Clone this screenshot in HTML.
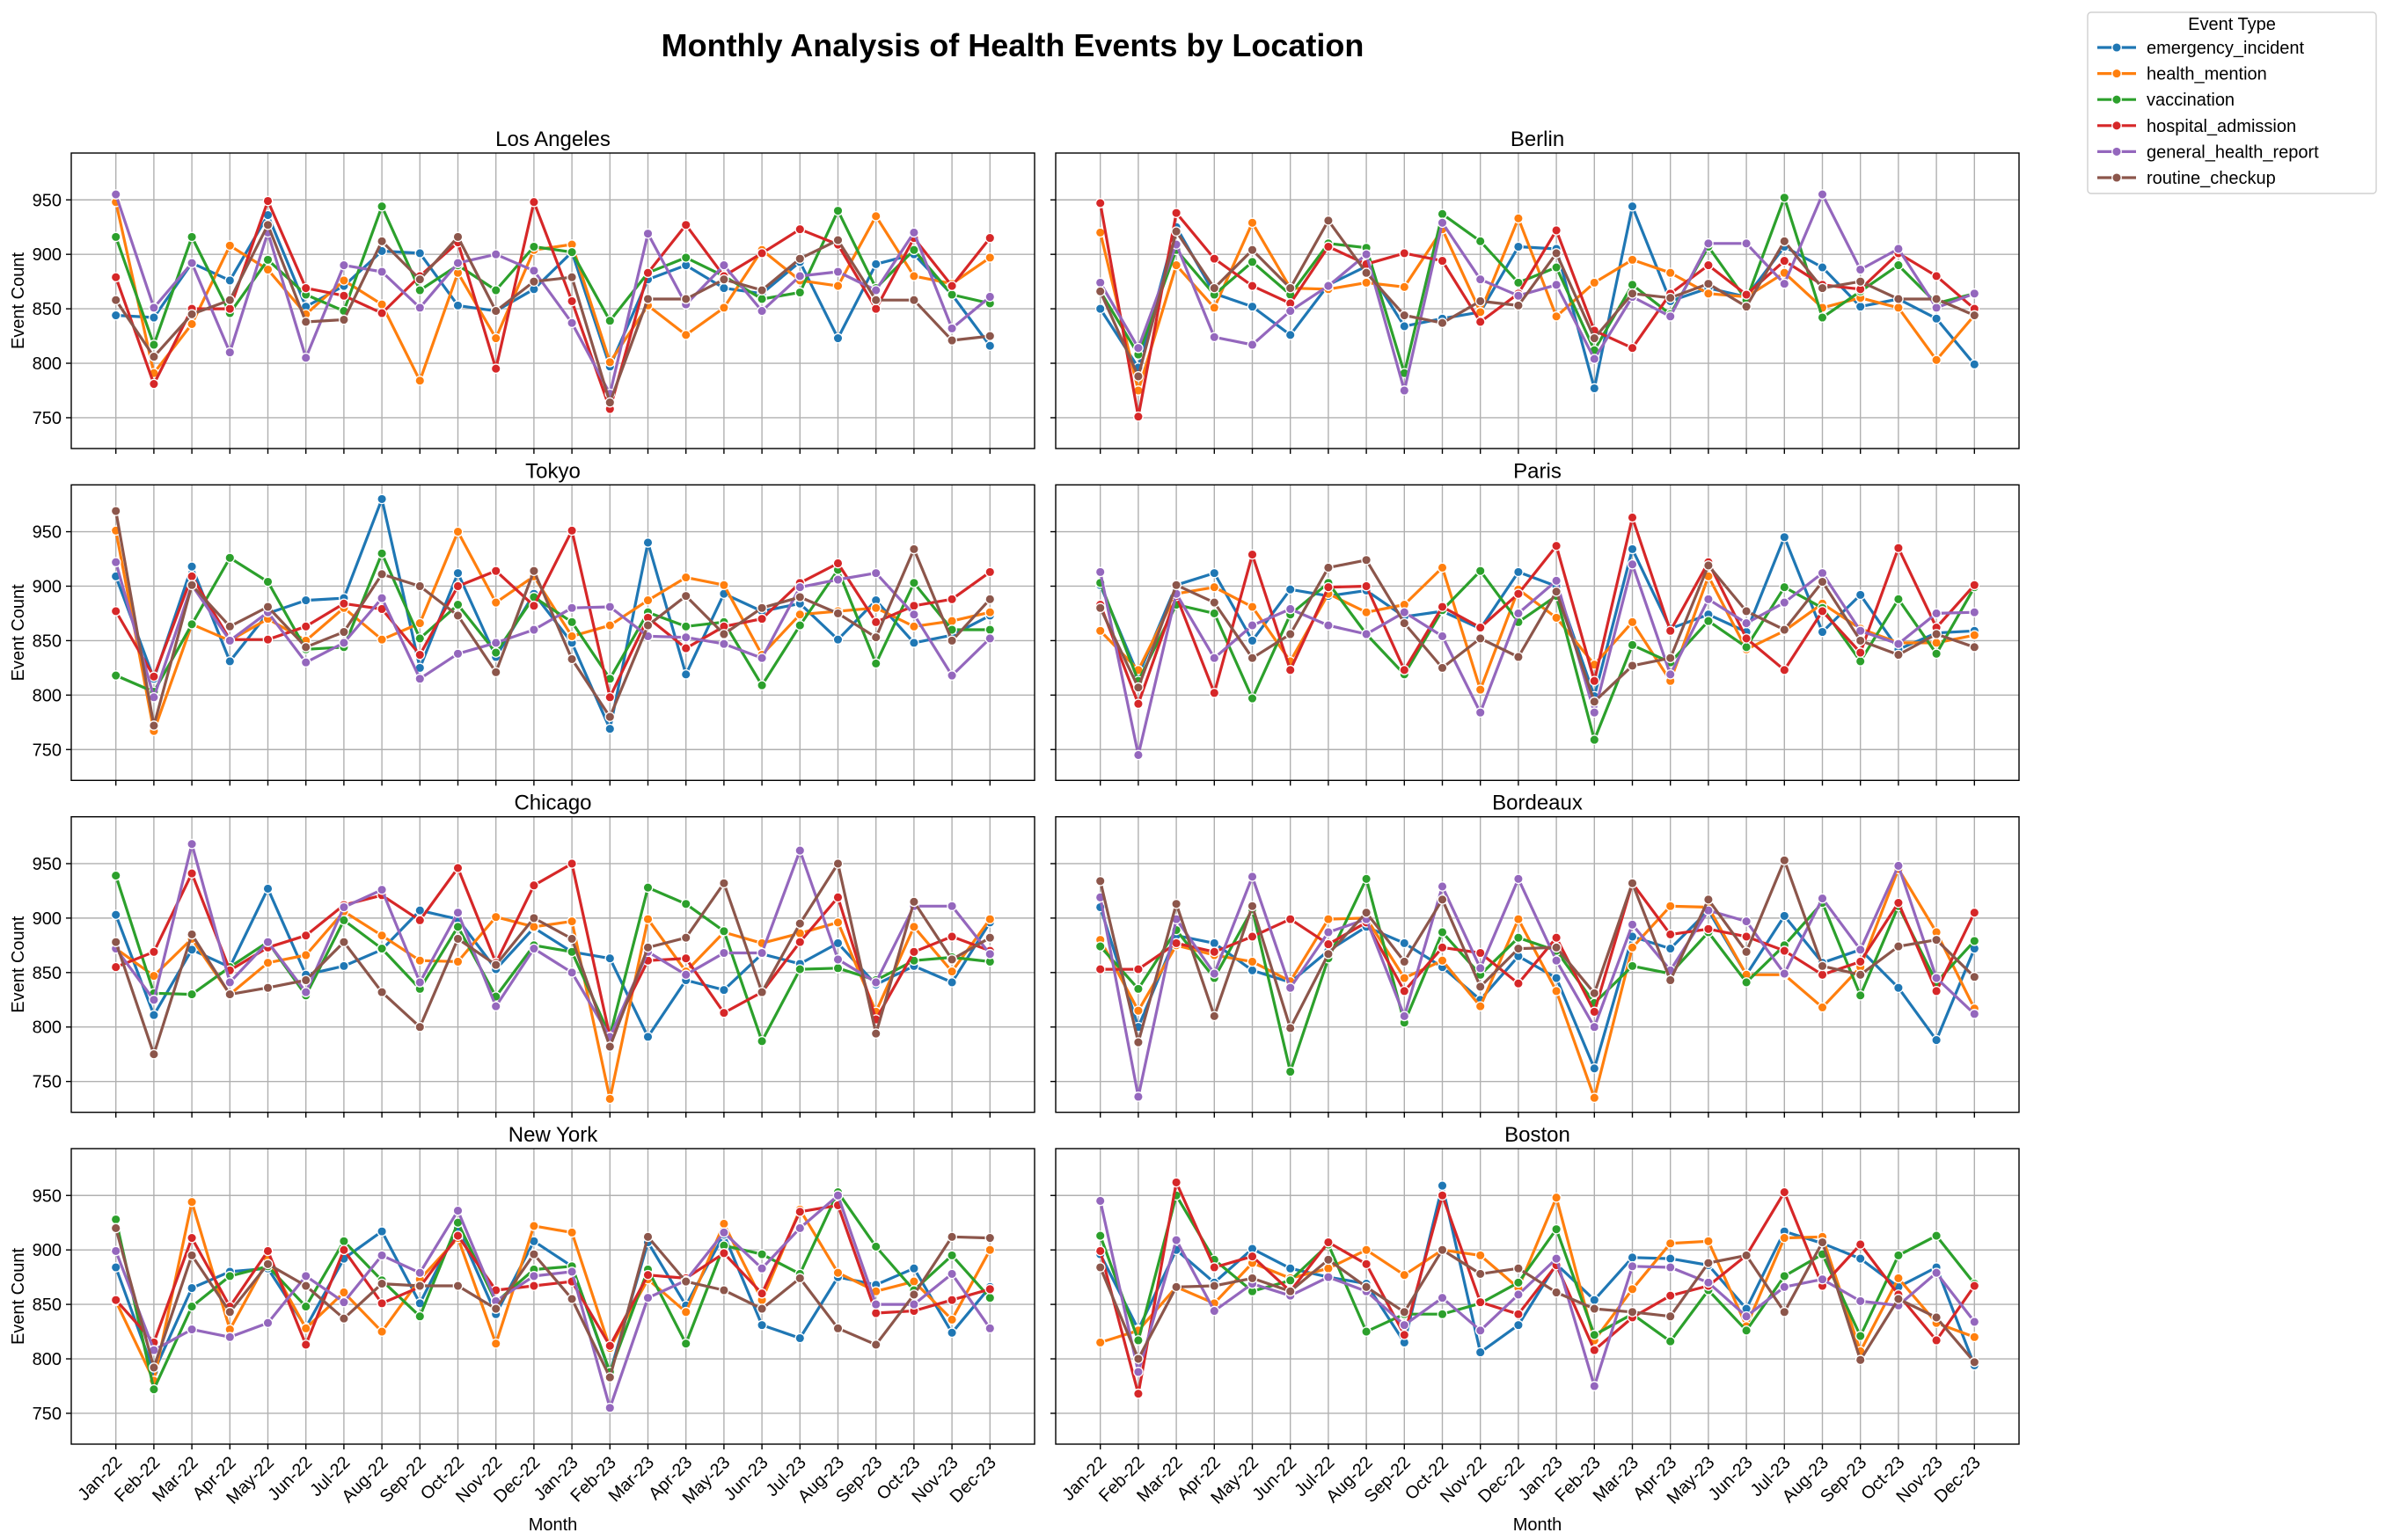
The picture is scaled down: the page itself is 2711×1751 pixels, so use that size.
<!DOCTYPE html>
<html><head><meta charset="utf-8"><title>Monthly Analysis of Health Events by Location</title>
<style>html,body{margin:0;padding:0;background:#fff}svg{display:block;font-family:"Liberation Sans","DejaVu Sans",sans-serif}</style>
</head><body>
<svg id="chart" width="2711" height="1751" viewBox="0 0 2711 1751" xmlns="http://www.w3.org/2000/svg">
<rect width="2711" height="1751" fill="#fff"/>
<text x="1151" y="64" text-anchor="middle" font-size="36" font-weight="bold">Monthly Analysis of Health Events by Location</text>
<g id="panels"></g>
<g id="legend"></g>
</svg>
<script>
const months = ["Jan-22","Feb-22","Mar-22","Apr-22","May-22","Jun-22","Jul-22","Aug-22","Sep-22","Oct-22","Nov-22","Dec-22","Jan-23","Feb-23","Mar-23","Apr-23","May-23","Jun-23","Jul-23","Aug-23","Sep-23","Oct-23","Nov-23","Dec-23"];
const seriesNames = ["emergency_incident","health_mention","vaccination","hospital_admission","general_health_report","routine_checkup"];
const seriesColors = ["#1f77b4","#ff7f0e","#2ca02c","#d62728","#9467bd","#8c564b"];
const yTicks = [750,800,850,900,950];
const locations = ["Los Angeles","Berlin","Tokyo","Paris","Chicago","Bordeaux","New York","Boston"];

const laData = [
[844,842,892,876,936,852,871,903,901,853,848,868,902,797,877,890,869,864,893,823,891,900,863,816],
[948,791,836,908,886,845,876,854,784,883,823,904,909,801,853,826,851,904,876,871,935,880,873,897],
[916,817,916,846,895,863,848,944,867,890,867,907,902,839,883,897,880,859,865,940,869,904,863,855],
[879,781,850,850,949,869,862,846,880,911,795,948,857,758,883,927,880,901,923,909,850,915,871,915],
[955,851,892,810,920,805,890,884,851,892,900,885,837,772,919,854,890,848,880,884,867,920,832,861],
[858,806,845,858,927,838,840,912,877,916,848,875,879,764,859,859,877,867,896,913,858,858,821,825]];
const berlinData = [
[850,796,925,864,852,826,872,889,834,841,847,907,905,777,944,857,869,861,907,888,852,859,841,799],
[920,775,890,851,929,869,868,874,870,923,847,933,843,874,895,883,864,861,883,851,860,851,803,844],
[866,808,904,863,893,863,910,906,791,937,912,874,888,812,872,845,907,858,952,842,866,890,855,864],
[947,751,938,896,871,855,907,891,901,894,838,864,922,830,814,864,890,863,894,872,868,901,880,850],
[874,814,909,824,817,848,871,900,775,929,877,862,872,804,861,843,910,910,873,955,886,905,851,864],
[866,788,921,869,904,869,931,883,844,837,857,853,901,823,864,860,873,852,912,869,875,859,859,844]];
const tokyoData = [
[909,815,918,831,875,887,889,980,825,912,835,893,848,769,940,819,893,877,884,851,887,848,855,873],
[951,767,865,850,870,850,880,851,866,950,885,909,854,864,887,908,901,837,874,877,880,863,868,876],
[818,803,865,926,904,842,844,930,852,883,839,890,867,815,876,863,867,809,864,915,829,903,860,860],
[877,817,909,851,851,863,884,879,837,900,914,882,951,798,871,843,863,870,903,921,867,882,888,913],
[922,798,901,850,876,830,848,889,815,838,848,860,880,881,854,853,847,834,899,906,912,874,818,852],
[969,772,901,863,881,844,858,911,900,873,821,914,833,780,864,891,856,880,890,875,853,934,850,888]];
const parisData = [
[901,818,901,912,850,897,891,896,872,877,861,913,900,799,934,861,874,858,945,858,892,842,857,859],
[859,823,893,899,881,831,893,876,883,917,805,897,871,828,867,813,909,842,859,884,861,848,848,855],
[903,813,883,875,797,874,903,856,819,878,914,867,891,759,846,830,868,844,899,880,831,888,838,899],
[883,792,891,802,929,823,899,900,823,881,862,893,937,813,963,859,922,852,823,877,839,935,862,901],
[913,745,893,834,864,879,864,856,876,854,784,875,905,784,920,819,888,866,885,912,859,847,875,876],
[880,807,901,885,834,856,917,924,866,825,852,835,895,794,827,834,919,877,860,904,850,837,856,844]];
const chicagoData = [
[903,811,871,855,927,848,856,871,907,899,853,891,869,863,791,843,834,867,858,877,839,856,841,896],
[872,847,881,830,859,866,906,884,861,860,901,892,897,734,899,851,887,877,886,896,814,892,851,899],
[939,831,830,855,878,829,898,872,835,892,828,875,869,792,928,913,888,787,853,854,843,861,864,860],
[855,869,941,852,873,884,912,921,898,946,859,930,950,791,861,863,813,832,878,919,807,869,883,870],
[872,825,968,841,878,832,910,926,841,905,819,872,850,791,869,848,868,868,962,862,841,911,911,867],
[878,775,885,830,836,843,878,832,800,881,857,900,881,782,873,882,932,832,895,950,794,915,862,882]];
const bordeauxData = [
[910,800,884,877,852,841,870,892,877,855,825,865,845,762,883,872,907,848,902,859,871,836,788,872],
[880,815,875,866,860,842,899,900,845,861,819,899,833,735,873,911,910,848,848,818,855,945,887,817],
[874,835,889,845,908,759,863,936,804,887,848,882,870,822,856,849,887,841,875,914,829,911,841,879],
[853,853,877,869,883,899,876,896,833,873,868,840,882,814,932,885,890,883,870,848,860,914,833,905],
[919,736,899,849,938,836,887,899,810,929,854,936,861,800,894,852,907,897,849,918,871,948,845,812],
[934,786,913,810,911,799,867,905,860,917,837,872,873,831,932,843,917,869,953,856,848,874,880,846]];
const newYorkData = [
[884,788,865,880,883,829,892,917,851,920,841,908,885,787,907,849,914,831,819,875,868,883,824,866],
[853,780,944,827,891,828,861,825,873,911,814,922,916,810,873,843,924,854,937,879,862,871,836,900],
[928,772,848,876,885,848,908,872,839,925,852,882,885,788,882,814,904,896,878,953,903,863,895,856],
[854,815,911,848,899,813,900,851,866,913,863,867,871,812,877,874,897,860,935,941,842,844,854,864],
[899,808,827,820,833,876,852,895,879,936,853,876,880,755,856,872,916,883,920,950,850,850,878,828],
[920,792,895,843,887,867,837,869,867,867,846,896,855,783,912,871,863,846,874,828,813,859,912,911]];
const bostonData = [
[896,827,900,870,901,883,875,869,815,959,806,831,887,854,893,892,886,846,917,906,892,866,884,794],
[815,826,866,851,888,874,883,900,877,900,895,865,948,817,864,906,908,830,911,912,807,874,833,820],
[913,817,950,891,862,872,905,825,841,841,851,870,919,822,841,816,863,826,876,896,821,895,913,869],
[899,768,962,884,894,862,907,887,822,950,852,841,886,808,838,858,867,895,953,867,905,859,817,867],
[945,788,909,844,869,858,875,862,831,856,826,859,892,775,885,884,870,839,866,873,853,849,879,834],
[884,800,866,867,874,862,891,866,843,900,878,883,861,846,843,839,888,895,843,907,799,855,838,797]];
const allData = [laData,berlinData,tokyoData,parisData,chicagoData,bordeauxData,newYorkData,bostonData];

const NS = "http://www.w3.org/2000/svg";
const PW = 1095, PH = 336, YMIN = 721.7, YMAX = 993;
const colX = [81, 1200], rowY = [174, 551.3, 928.7, 1306];
function mk(tag, attrs, parent){const e=document.createElementNS(NS,tag);for(const k in attrs)e.setAttribute(k,attrs[k]);parent.appendChild(e);return e;}
function slug(s){return s.toLowerCase().replace(/[^a-z0-9]+/g,'-');}
const root = document.getElementById('panels');

locations.forEach((loc, li) => {
  const col = li % 2, row = Math.floor(li / 2);
  const x0 = colX[col], y0 = rowY[row];
  const xs = i => x0 + 50.7 + i * (PW - 101.4) / (months.length - 1);
  const ys = v => y0 + (YMAX - v) / (YMAX - YMIN) * PH;
  const g = mk('g', {}, root);
  
  
  // grid
  months.forEach((m, i) => {
    const l = mk('line', {x1: xs(i), x2: xs(i), y1: y0, y2: y0 + PH, stroke: '#b0b0b0', 'stroke-width': 1.4}, g);
    
    
    const t = mk('line', {x1: xs(i), x2: xs(i), y1: y0 + PH, y2: y0 + PH + 6, stroke: '#000', 'stroke-width': 1.4}, g);
    
    
  });
  yTicks.forEach(v => {
    const l = mk('line', {x1: x0, x2: x0 + PW, y1: ys(v), y2: ys(v), stroke: '#b0b0b0', 'stroke-width': 1.4}, g);
    
    
    const t = mk('line', {x1: x0 - 6, x2: x0, y1: ys(v), y2: ys(v), stroke: '#000', 'stroke-width': 1.4}, g);
    
    
    if (col === 0) {
      const tx = mk('text', {x: x0 - 11, y: ys(v) + 7, 'text-anchor': 'end', 'font-size': 20}, g);
      tx.textContent = v;
      
      
    }
  });
  // title
  const tt = mk('text', {x: x0 + PW / 2, y: y0 - 8, 'text-anchor': 'middle', 'font-size': 24}, g);
  tt.textContent = loc;
  
  
  if (col === 0) {
    const yl = mk('text', {x: 0, y: 0, 'text-anchor': 'middle', 'font-size': 20, transform: `translate(27,${y0 + PH / 2}) rotate(-90)`}, g);
    yl.textContent = 'Event Count';
    
    
  }
  if (row === 3) {
    months.forEach((m, i) => {
      const tx = mk('text', {x: 0, y: 0, 'text-anchor': 'end', 'font-size': 20, transform: `translate(${xs(i) + 8},${y0 + PH + 22}) rotate(-45)`}, g);
      tx.textContent = m;
      
      
    });
    const xl = mk('text', {x: x0 + PW / 2, y: 1740, 'text-anchor': 'middle', 'font-size': 20}, g);
    xl.textContent = 'Month';
    
    
  }
  // series
  allData[li].forEach((vals, si) => {
    const sg = mk('g', {}, g);
    
    
    const pts = vals.map((v, i) => xs(i).toFixed(1) + ',' + ys(v).toFixed(1)).join(' ');
    const pl = mk('polyline', {points: pts, fill: 'none', stroke: seriesColors[si], 'stroke-width': 3.2, 'stroke-linejoin': 'round'}, sg);
    
    
    vals.forEach((v, i) => {
      const c = mk('circle', {cx: xs(i), cy: ys(v), r: 5.2, fill: seriesColors[si], stroke: '#fff', 'stroke-width': 1.3}, sg);
      
      
    });
  });
  const fr = mk('rect', {x: x0, y: y0, width: PW, height: PH, fill: 'none', stroke: '#000', 'stroke-width': 1.4}, g);
  
  
});

// legend
const lg = document.getElementById('legend');
const box = mk('rect', {x: 2373, y: 14, width: 328, height: 206, rx: 4, fill: '#fff', stroke: '#d0d0d0', 'stroke-width': 1.4}, lg);


const lt = mk('text', {x: 2537, y: 34, 'text-anchor': 'middle', 'font-size': 20}, lg);
lt.textContent = 'Event Type';


seriesNames.forEach((n, i) => {
  const y = 54 + i * 29.6;
  const eg = mk('g', {}, lg);
  
  
  mk('line', {x1: 2384, x2: 2428, y1: y, y2: y, stroke: seriesColors[i], 'stroke-width': 3.2}, eg);
  mk('circle', {cx: 2406, cy: y, r: 5.2, fill: seriesColors[i], stroke: '#fff', 'stroke-width': 1.3}, eg);
  const t = mk('text', {x: 2440, y: y + 7, 'font-size': 20}, eg);
  t.textContent = n;
});
</script>
</body></html>
